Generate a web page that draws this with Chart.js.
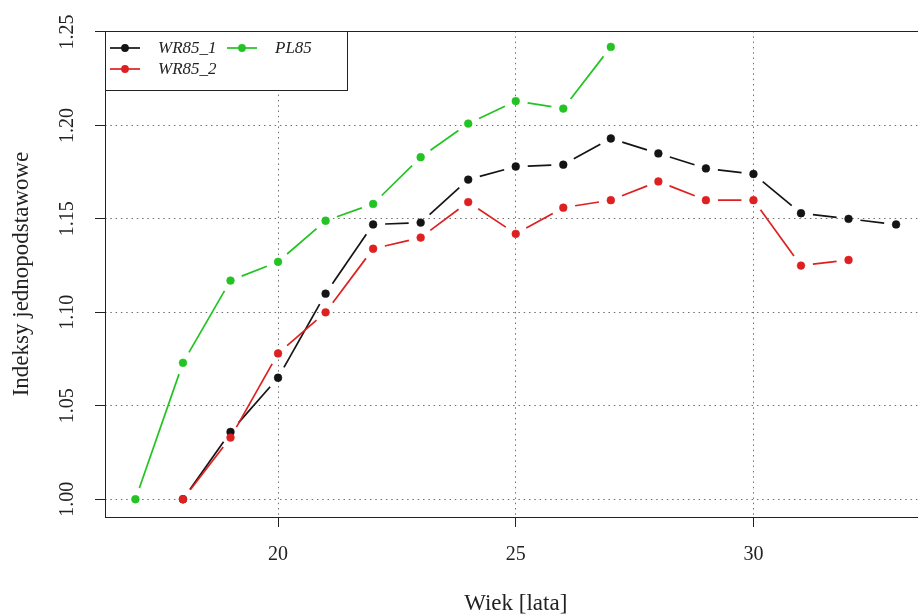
<!DOCTYPE html>
<html>
<head>
<meta charset="utf-8">
<script src="https://cdn.jsdelivr.net/npm/chart.js@4/dist/chart.umd.min.js"></script>
<style>
  html, body { margin: 0; padding: 0; background: #fff; overflow: hidden; width: 918px; height: 615px; }
  #wrap { position: relative; width: 931px; height: 615px; }
</style>
</head>
<body>
<div id="wrap"><canvas id="c" width="931" height="615"></canvas></div>
<script>
// Age (years) and chain-free base indices for each series
const ages   = [17, 18, 19, 20, 21, 22, 23, 24, 25, 26, 27, 28, 29, 30, 31, 32, 33];
const wr85_1 = [null, 1.000, 1.036, 1.065, 1.110, 1.147, 1.148, 1.171, 1.178, 1.179, 1.193, 1.185, 1.177, 1.174, 1.153, 1.150, 1.147];
const wr85_2 = [null, 1.000, 1.033, 1.078, 1.100, 1.134, 1.140, 1.159, 1.142, 1.156, 1.160, 1.170, 1.160, 1.160, 1.125, 1.128, null];
const pl85   = [1.000, 1.073, 1.117, 1.127, 1.149, 1.158, 1.183, 1.201, 1.213, 1.209, 1.242, null, null, null, null, null, null];

const seriesNames  = ['WR85_1', 'WR85_2', 'PL85'];
const seriesColors = ['#141414', '#DE2020', '#22C322'];

const xTickValues = [20, 25, 30];
const yTickValues = [1.00, 1.05, 1.10, 1.15, 1.20, 1.25];
const yTickLabels = ['1.00', '1.05', '1.10', '1.15', '1.20', '1.25'];

const xTitle = 'Wiek [lata]';
const yTitle = 'Indeksy jednopodstawowe';

const SERIF = '"Liberation Serif", "DejaVu Serif", serif';
const TEXT = '#222';
const GAP = 12;          // gap left between a segment and its points
const LINE_W = 1.7;

function toPoints(vals) {
  return ages.map((a, i) => ({ x: a, y: vals[i] }));
}

function makeSet(idx, vals, order) {
  const col = seriesColors[idx];
  return {
    label: seriesNames[idx],
    data: toPoints(vals),
    showLine: false,
    borderColor: col,
    backgroundColor: col,
    pointBackgroundColor: col,
    pointBorderColor: col,
    pointBorderWidth: 0.5,
    pointRadius: 3.9,
    order: order
  };
}

// Segments between consecutive points, stopped short of each marker
const gappedLines = {
  id: 'gappedLines',
  beforeDatasetsDraw(chart) {
    const ctx = chart.ctx;
    const area = chart.chartArea;
    ctx.save();
    ctx.beginPath();
    ctx.rect(area.left, area.top, area.right - area.left, area.bottom - area.top);
    ctx.clip();
    const idxs = chart.data.datasets.map((d, i) => i).sort((a, b) => chart.data.datasets[b].order - chart.data.datasets[a].order);
    idxs.forEach(i => {
      const ds = chart.data.datasets[i];
      const meta = chart.getDatasetMeta(i);
      const pts = meta.data;
      ctx.strokeStyle = ds.borderColor;
      ctx.lineWidth = LINE_W;
      ctx.lineCap = 'butt';
      for (let k = 0; k < pts.length - 1; k++) {
        const a = pts[k], b = pts[k + 1];
        if (a.skip || b.skip) continue;
        const dx = b.x - a.x, dy = b.y - a.y;
        const d = Math.hypot(dx, dy);
        if (d <= 2 * GAP) continue;
        const ux = dx / d, uy = dy / d;
        ctx.beginPath();
        ctx.moveTo(a.x + ux * GAP, a.y + uy * GAP);
        ctx.lineTo(b.x - ux * GAP, b.y - uy * GAP);
        ctx.stroke();
      }
    });
    ctx.restore();
  }
};

// Plot frame, rotated y tick labels and the two-column legend
const decorations = {
  id: 'decorations',
  afterDraw(chart) {
    const ctx = chart.ctx;
    const area = chart.chartArea;
    const ys = chart.scales.y;

    ctx.save();
    // frame
    ctx.strokeStyle = '#222';
    ctx.lineWidth = 1;
    ctx.strokeRect(Math.round(area.left) + 0.5, Math.round(area.top) + 0.5,
                   Math.round(area.right - area.left) - 1, Math.round(area.bottom - area.top));

    // y tick labels, reading upwards
    ctx.fillStyle = TEXT;
    ctx.font = '20px ' + SERIF;
    ctx.textAlign = 'center';
    ctx.textBaseline = 'middle';
    yTickValues.forEach((v, i) => {
      const y = ys.getPixelForValue(v);
      ctx.save();
      ctx.translate(ys.right - 37, y);
      ctx.rotate(-Math.PI / 2);
      ctx.fillText(yTickLabels[i], 0, 0);
      ctx.restore();
    });

    // legend
    const lx = area.left, ly = area.top;
    const lw = 242, lh = 59;
    ctx.fillStyle = '#fff';
    ctx.fillRect(lx + 0.5, ly + 0.5, lw, lh);
    ctx.strokeStyle = '#222';
    ctx.lineWidth = 1;
    ctx.strokeRect(lx + 0.5, ly + 0.5, lw, lh);

    const slots = [
      { ds: 0, x: lx + 5,   y: ly + 17 },
      { ds: 1, x: lx + 5,   y: ly + 38 },
      { ds: 2, x: lx + 122, y: ly + 17 }
    ];
    ctx.font = 'italic 17px ' + SERIF;
    ctx.textAlign = 'left';
    ctx.textBaseline = 'middle';
    slots.forEach(s => {
      const col = seriesColors[s.ds];
      ctx.strokeStyle = col;
      ctx.lineWidth = LINE_W;
      ctx.beginPath();
      ctx.moveTo(s.x, s.y);
      ctx.lineTo(s.x + 30, s.y);
      ctx.stroke();
      ctx.fillStyle = col;
      ctx.beginPath();
      ctx.arc(s.x + 15, s.y, 3.9, 0, Math.PI * 2);
      ctx.fill();
      ctx.fillStyle = TEXT;
      ctx.fillText(seriesNames[s.ds], s.x + 48, s.y + 1);
    });
    ctx.restore();
  }
};

const gridCommon = {
  color: '#707070',
  lineWidth: 1,
  drawTicks: true,
  tickLength: 10,
  tickColor: '#222',
  tickWidth: 1
};

new Chart(document.getElementById('c').getContext('2d'), {
  type: 'line',
  data: {
    datasets: [
      makeSet(0, wr85_1, 1),
      makeSet(1, wr85_2, 0),
      makeSet(2, pl85, 2)
    ]
  },
  options: {
    responsive: false,
    animation: false,
    events: [],
    layout: { padding: { top: 31, right: 0, bottom: 0, left: 0 } },
    plugins: {
      legend: { display: false },
      tooltip: { enabled: false }
    },
    scales: {
      x: {
        type: 'linear',
        min: 16.36,
        max: 33.64,
        afterFit(s) { s.height = 98; },
        afterBuildTicks(s) { s.ticks = xTickValues.map(v => ({ value: v })); },
        ticks: {
          color: TEXT,
          font: { family: SERIF, size: 20 },
          padding: 16,
          maxRotation: 0,
          callback: v => String(v)
        },
        grid: gridCommon,
        border: { display: false, dash: [1.5, 3.8] },
        title: {
          display: true,
          text: xTitle,
          color: TEXT,
          font: { family: SERIF, size: 23 },
          padding: { top: 0, bottom: -3 }
        }
      },
      y: {
        type: 'linear',
        min: 0.9905,
        max: 1.2505,
        afterFit(s) { s.width = 105; },
        afterBuildTicks(s) { s.ticks = yTickValues.map(v => ({ value: v })); },
        ticks: { display: false },
        grid: gridCommon,
        border: { display: false, dash: [1.5, 3.8] },
        title: {
          display: true,
          text: yTitle,
          color: TEXT,
          font: { family: SERIF, size: 23 },
          padding: { top: 8, bottom: 0 }
        }
      }
    }
  },
  plugins: [gappedLines, decorations]
});
</script>
</body>
</html>
